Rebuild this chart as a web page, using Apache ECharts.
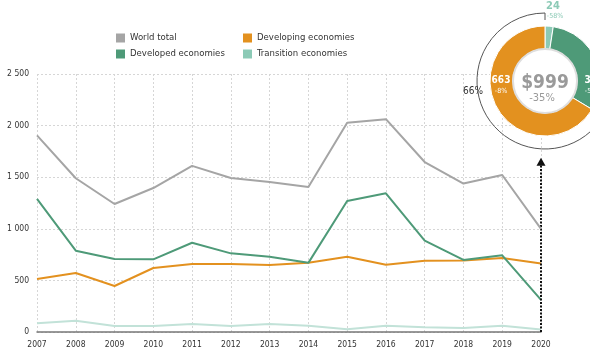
<!DOCTYPE html>
<html><head><meta charset="utf-8">
<script src="https://cdn.jsdelivr.net/npm/echarts@6/dist/echarts.min.js"></script>
<style>html,body{margin:0;padding:0;background:#fff}#c{width:590px;height:349px}</style>
</head><body><div id="c"></div>
<script>
const years = ['2007','2008','2009','2010','2011','2012','2013','2014','2015','2016','2017','2018','2019','2020'];
const worldTotal = [1905,1490,1240,1395,1610,1492,1453,1405,2028,2062,1647,1438,1521,999];
const developed  = [1290,788,707,704,865,762,730,670,1269,1344,885,698,743,312];
const developing = [513,572,446,620,659,660,650,671,730,652,691,694,717,663];
const transition = [84,110,58,58,78,58,78,61,26,61,45,39,61,24];
const yTicks = [0,500,1000,1500,2000,2500];
const donutNames = ['Transition economies','Developed economies','Developing economies'];
const donutValues = [24,312,663];
const donutChange = ['-58%','-58%','-8%'];
const totalChange = '-35%';

const FONT = "'Liberation Sans Narrow','DejaVu Sans Condensed','Liberation Sans',sans-serif";
const C = {world:'#a5a5a5', developed:'#4e9a78', developing:'#e3911f', transition:'#c2e2d8', transitionDot:'#8ccab6'};
const total = donutValues.reduce((a,b)=>a+b,0);
const cx = 545, cy = 81;
const share = Math.round(donutValues[2]/total*100);

const chart = echarts.init(document.getElementById('c'));
const lineS = (name, data, color, z) => ({
  name, type:'line', data, symbol:'none', z,
  lineStyle:{color, width:2}, itemStyle:{color}
});
chart.setOption({
  animation:false,
  textStyle:{fontFamily:FONT},
  legend:[
    {left:111, top:28, orient:'vertical', itemGap:6, itemWidth:9, itemHeight:9, icon:'rect',
     textStyle:{fontSize:9.5, color:'#333', fontFamily:FONT}, data:['World total','Developed economies']},
    {left:238, top:28, orient:'vertical', itemGap:6, itemWidth:9, itemHeight:9, icon:'rect',
     textStyle:{fontSize:9.5, color:'#333', fontFamily:FONT}, data:['Developing economies',{name:'Transition economies', itemStyle:{color:C.transitionDot}}]}
  ],
  grid:{left:37, right:49, top:74, bottom:17, containLabel:false},
  xAxis:{type:'category', data:years, boundaryGap:false,
    axisLine:{lineStyle:{color:'#777', width:1.5}}, axisTick:{show:false},
    axisLabel:{fontSize:8.5, color:'#333', margin:8, fontFamily:FONT},
    splitLine:{show:true, lineStyle:{type:[2,2], color:'#d6d6d6'}}},
  yAxis:{type:'value', min:0, max:2500, interval:500,
    axisLine:{show:false}, axisTick:{show:false},
    axisLabel:{fontSize:8.5, color:'#333', margin:8, fontFamily:FONT,
      formatter:v=>String(v).replace(/\B(?=(\d{3})+(?!\d))/g,' ')},
    splitLine:{lineStyle:{type:[2,2], color:'#d6d6d6'}}},
  series:[
    lineS('Transition economies', transition, C.transition, 2),
    lineS('Developing economies', developing, C.developing, 3),
    lineS('Developed economies', developed, C.developed, 4),
    Object.assign(lineS('World total', worldTotal, C.world, 5), {
      markLine:{silent:true, symbol:['none','triangle'], symbolSize:[9,8], label:{show:false},
        lineStyle:{color:'#111', type:[2,1.5], width:2},
        data:[[{coord:['2020',0]},{coord:['2020',1650]}]]}
    }),
    {type:'pie', center:[cx,cy], radius:[32,55], startAngle:90, clockwise:true,
     label:{show:false}, labelLine:{show:false}, silent:true, z:10,
     itemStyle:{borderColor:'#fff', borderWidth:1},
     data:donutNames.map((n,i)=>({name:n+' ', value:donutValues[i],
        itemStyle:{color:[C.transitionDot,C.developed,C.developing][i]}}))}
  ],
  graphic:[
    {type:'circle', shape:{cx,cy,r:32}, style:{fill:'#fff', stroke:'#dedede', lineWidth:2}, z:20},
    {type:'arc', shape:{cx,cy,r:68, startAngle:-Math.PI/2 - donutValues[2]/total*2*Math.PI, endAngle:-Math.PI/2, clockwise:true},
     style:{stroke:'#555', lineWidth:1, fill:null}, z:20},
    {type:'line', shape:{x1:cx,y1:13,x2:cx,y2:20}, style:{stroke:'#555', lineWidth:1}, z:20},
    {type:'text', x:cx, y:cy+2, z:21, style:{text:'$'+total, fill:'#9a9a9a', font:'bold 19px '+FONT, align:'center', verticalAlign:'middle'}},
    {type:'text', x:cx-3, y:cy+17, z:21, style:{text:totalChange, fill:'#9a9a9a', font:'11px '+FONT, align:'center', verticalAlign:'middle'}},
    {type:'text', x:501, y:80, z:21, style:{text:String(donutValues[2]), fill:'#fff', font:'bold 10px '+FONT, align:'center', verticalAlign:'middle'}},
    {type:'text', x:501, y:91, z:21, style:{text:donutChange[2], fill:'#fff', font:'7px '+FONT, align:'center', verticalAlign:'middle'}},
    {type:'text', x:594, y:80, z:21, style:{text:String(donutValues[1]), fill:'#fff', font:'bold 10px '+FONT, align:'center', verticalAlign:'middle'}},
    {type:'text', x:593, y:91, z:21, style:{text:donutChange[1], fill:'#fff', font:'7px '+FONT, align:'center', verticalAlign:'middle'}},
    {type:'text', x:553, y:6, z:21, style:{text:String(donutValues[0]), fill:C.transitionDot, font:'bold 11px '+FONT, align:'center', verticalAlign:'middle'}},
    {type:'text', x:555, y:16, z:21, style:{text:donutChange[0], fill:C.transitionDot, font:'7px '+FONT, align:'center', verticalAlign:'middle'}},
    {type:'text', x:473, y:91, z:21, style:{text:share+'%', fill:'#333', font:'10px '+FONT, align:'center', verticalAlign:'middle'}}
  ]
});
</script></body></html>
